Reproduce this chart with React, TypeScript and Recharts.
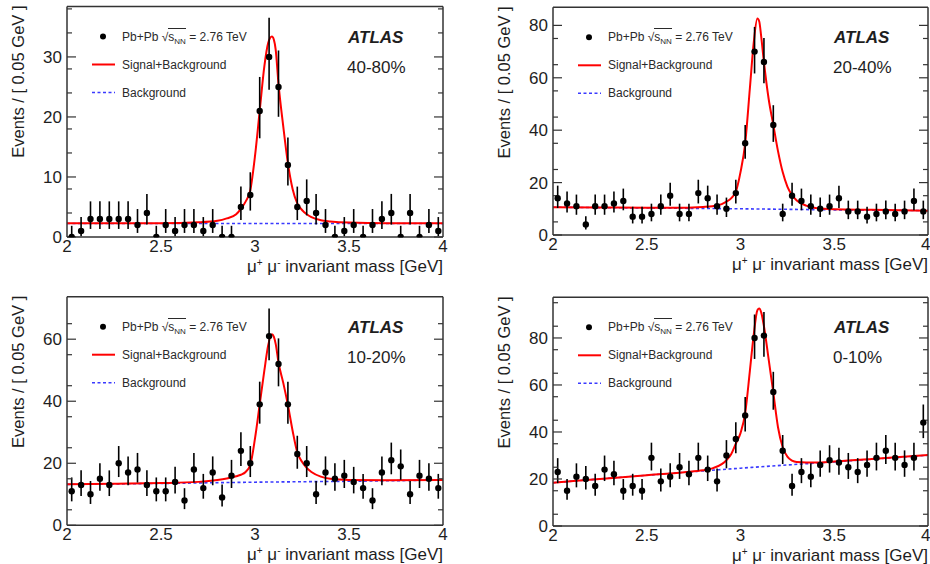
import React from "react";
import { ComposedChart, Line, Scatter, XAxis, YAxis, ErrorBar } from "recharts";

// bin centres, 0.05 GeV wide
const massBins = [
  2.025, 2.075, 2.125, 2.175, 2.225, 2.275, 2.325, 2.375, 2.425, 2.475,
  2.525, 2.575, 2.625, 2.675, 2.725, 2.775, 2.825, 2.875, 2.925, 2.975,
  3.025, 3.075, 3.125, 3.175, 3.225, 3.275, 3.325, 3.375, 3.425, 3.475,
  3.525, 3.575, 3.625, 3.675, 3.725, 3.775, 3.825, 3.875, 3.925, 3.975,
];

const counts4080 = [0, 1, 3, 3, 3, 3, 3, 2, 4, 0, 2, 1, 2, 2, 1, 2, 0, 0, 5, 7, 21, 30, 25, 12, 5, 6, 4, 2, 0, 1, 2, 0, 2, 3, 4, 0, 4, 0, 2, 1];
const counts2040 = [14, 12, 11, 4, 11, 11, 12, 13, 7, 7, 8, 11, 15, 8, 8, 16, 14, 11, 10, 16, 35, 70, 66, 42, 8, 15, 13, 11, 10, 11, 14, 9, 9, 7, 8, 9, 8, 9, 13, 9];
const counts1020 = [11, 13, 10, 15, 13, 20, 17, 18, 13, 11, 11, 14, 8, 18, 12, 17, 9, 16, 24, 20, 39, 61, 52, 39, 23, 20, 10, 17, 15, 16, 14, 12, 8, 17, 21, 19, 10, 16, 15, 12];
const counts010 = [23, 15, 21, 20, 17, 24, 22, 15, 17, 15, 29, 19, 21, 25, 22, 29, 24, 19, 30, 37, 47, 80, 81, 57, 32, 17, 23, 21, 26, 28, 27, 25, 23, 26, 29, 32, 29, 26, 29, 44];

// fit curve
const curveMass = [2.0, 2.25, 2.5, 2.7, 2.8, 2.85, 2.9, 2.925, 2.95, 2.975, 3.0, 3.025, 3.05, 3.07, 3.09, 3.1, 3.11, 3.125, 3.15, 3.175, 3.2, 3.225, 3.25, 3.275, 3.3, 3.35, 3.4, 3.5, 3.7, 4.0];
const fit4080 = [2.3, 2.3, 2.3, 2.45, 2.7, 3.1, 3.8, 4.7, 5.9, 7.8, 13.5, 21, 28.5, 32.3, 33.4, 32.9, 31.2, 25.5, 18.5, 12.3, 8.0, 5.6, 4.5, 3.8, 3.3, 2.8, 2.6, 2.4, 2.3, 2.3];
const fit2040 = [10.6, 10.5, 10.4, 10.4, 10.7, 11.0, 11.8, 12.7, 14.0, 16.5, 24, 35, 56, 73, 82.6, 81.5, 76, 66, 52, 42, 32, 24, 18.5, 15.2, 13.2, 11.2, 10.3, 9.8, 9.6, 9.3];
const fit1020 = [13.2, 13.4, 13.6, 14.0, 14.6, 15.1, 15.8, 16.3, 17.2, 19.5, 28, 39, 50, 58, 61.6, 60.8, 58.5, 52.5, 46, 38.8, 30.5, 23.5, 20.5, 18.5, 17.2, 15.7, 15.0, 14.6, 14.5, 14.6];
const fit010 = [18.4, 20.0, 21.6, 22.9, 23.7, 24.5, 26.3, 28, 30.5, 35, 39.5, 48, 66, 81, 91.8, 92.5, 91, 85, 71, 56.7, 42, 33.5, 29.5, 27.8, 27.2, 27.0, 27.0, 27.4, 28.5, 30.2];

const bkgMass = [2.0, 2.5, 3.0, 3.5, 4.0];
const bkg4080 = [2.25, 2.25, 2.25, 2.25, 2.25];
const bkg2040 = [10.6, 10.3, 10.0, 9.6, 9.3];
const bkg1020 = [13.2, 13.5, 13.9, 14.2, 14.6];
const bkg010 = [18.4, 21.6, 24.6, 27.3, 30.1];

const massMajor = [2, 2.5, 3, 3.5, 4];
const massMinor = [2.1, 2.2, 2.3, 2.4, 2.6, 2.7, 2.8, 2.9, 3.1, 3.2, 3.3, 3.4, 3.6, 3.7, 3.8, 3.9];
const yMajor10 = [0, 10, 20, 30];
const yMinor2 = [2, 4, 6, 8, 12, 14, 16, 18, 22, 24, 26, 28, 32, 34, 36, 38];
const yMajor20 = [0, 20, 40, 60, 80];
const yMinor5 = [5, 10, 15, 25, 30, 35, 45, 50, 55, 65, 70, 75, 85, 90, 95];

const FONT = '"Liberation Sans", Arial, Helvetica, sans-serif';
const INK = "#1e1e1e";
const FRAME = "#333";
const YW = 50;
const XH = 24;
const THIN = 0.01;

type Spec = {
  centrality: string;
  counts: number[];
  fit: number[];
  bkg: number[];
  yMax: number;
  yMajor: number[];
  yMinor: number[];
  chart: { x: number; y: number; w: number; h: number };
  plot: { l: number; t: number; r: number; b: number };
};

const panels: Spec[] = [
  { centrality: "40-80%", counts: counts4080, fit: fit4080, bkg: bkg4080, yMax: 38.4, yMajor: yMajor10, yMinor: yMinor2,
    chart: { x: 0, y: 0, w: 462, h: 288 }, plot: { l: 67, t: 6.5, r: 443, b: 237 } },
  { centrality: "20-40%", counts: counts2040, fit: fit2040, bkg: bkg2040, yMax: 86.9, yMajor: yMajor20, yMinor: yMinor5,
    chart: { x: 480, y: 0, w: 450, h: 288 }, plot: { l: 553, t: 7.3, r: 928, b: 235 } },
  { centrality: "10-20%", counts: counts1020, fit: fit1020, bkg: bkg1020, yMax: 73.7, yMajor: yMajor20.slice(0, 4), yMinor: yMinor5,
    chart: { x: 0, y: 288, w: 462, h: 276 }, plot: { l: 67, t: 296.7, r: 443, b: 525.3 } },
  { centrality: "0-10%", counts: counts010, fit: fit010, bkg: bkg010, yMax: 97.3, yMajor: yMajor20, yMinor: yMinor5,
    chart: { x: 480, y: 288, w: 450, h: 276 }, plot: { l: 553, t: 297.3, r: 928, b: 526 } },
];

const noLabel = () => <g />;
const dot = (props: any) => <circle cx={props.cx} cy={props.cy} r={3.2} fill="#000" />;

function Panel({ p }: { p: Spec }) {
  const { chart, plot } = p;
  const margin = {
    left: plot.l - chart.x - YW,
    top: plot.t - chart.y,
    right: chart.x + chart.w - plot.r,
    bottom: chart.y + chart.h - plot.b - XH,
  };
  const pts = massBins.map((x, i) => {
    const n = p.counts[i];
    return { x, y: n, err: [n > 0 ? Math.sqrt(n - 0.25) : 0, Math.sqrt(n + 0.75) + 1], xerr: 0.012 };
  });
  const fit = curveMass.map((x, i) => ({ x, y: p.fit[i] }));
  const bkg = bkgMass.map((x, i) => ({ x, y: p.bkg[i] }));
  const tl = { stroke: FRAME, strokeWidth: 1.2 };
  const frameLine = { stroke: FRAME, strokeWidth: 1.5 };
  const xs = { type: "number" as const, domain: [2, 4], allowDataOverflow: true, mirror: true, height: THIN, tick: noLabel, tickLine: tl, stroke: FRAME };
  const ys = { type: "number" as const, domain: [0, p.yMax], allowDataOverflow: true, mirror: true, width: THIN, tick: noLabel, tickLine: tl, stroke: FRAME };
  const label = { fontSize: 17, fill: INK, fontFamily: FONT };

  return (
    <div style={{ position: "absolute", left: chart.x, top: chart.y }}>
      <ComposedChart width={chart.w} height={chart.h} margin={margin}>
        <XAxis xAxisId="m" dataKey="x" type="number" domain={[2, 4]} allowDataOverflow ticks={massMajor}
          height={XH} tickSize={0} tickMargin={3} tick={label} tickLine={false} axisLine={frameLine} />
        <YAxis yAxisId="m" type="number" domain={[0, p.yMax]} allowDataOverflow ticks={p.yMajor}
          width={YW} tickSize={0} tickMargin={5} tick={label} tickLine={false} axisLine={frameLine} />

        <XAxis {...xs} xAxisId="bM" orientation="bottom" ticks={massMajor} tickSize={9} axisLine={false} />
        <XAxis {...xs} xAxisId="bm" orientation="bottom" ticks={massMinor} tickSize={5} axisLine={false} />
        <XAxis {...xs} xAxisId="tM" orientation="top" ticks={massMajor} tickSize={9} axisLine={frameLine} />
        <XAxis {...xs} xAxisId="tm" orientation="top" ticks={massMinor} tickSize={5} axisLine={false} />
        <YAxis {...ys} yAxisId="lM" orientation="left" ticks={p.yMajor} tickSize={9} axisLine={false} />
        <YAxis {...ys} yAxisId="lm" orientation="left" ticks={p.yMinor} tickSize={5} axisLine={false} />
        <YAxis {...ys} yAxisId="rM" orientation="right" ticks={p.yMajor} tickSize={9} axisLine={frameLine} />
        <YAxis {...ys} yAxisId="rm" orientation="right" ticks={p.yMinor} tickSize={5} axisLine={false} />

        <Line xAxisId="m" yAxisId="m" data={bkg} dataKey="y" type="monotone" stroke="#3a3aff" strokeWidth={1.6}
          strokeDasharray="3 2.5" dot={false} activeDot={false} isAnimationActive={false} />
        <Line xAxisId="m" yAxisId="m" data={fit} dataKey="y" type="monotone" stroke="#ff0000" strokeWidth={2}
          dot={false} activeDot={false} isAnimationActive={false} />
        <Scatter xAxisId="m" yAxisId="m" data={pts} dataKey="y" shape={dot} isAnimationActive={false}>
          <ErrorBar dataKey="err" direction="y" width={0} stroke="#000" strokeWidth={1.6} />
          <ErrorBar dataKey="xerr" direction="x" width={0} stroke="#000" strokeWidth={1.6} />
        </Scatter>
      </ComposedChart>
    </div>
  );
}

function Annotations({ p }: { p: Spec }) {
  const { l, t, r, b } = p.plot;
  const txt: React.CSSProperties = { position: "absolute", fontFamily: FONT, color: INK, whiteSpace: "nowrap", transform: "translateY(-50%)", lineHeight: 1 };
  const leg: React.CSSProperties = { ...txt, fontSize: 12, color: "#2a2a2a" };
  const sup: React.CSSProperties = { fontSize: 10, position: "relative", top: -6 };
  return (
    <>
      <svg width={930} height={564} style={{ position: "absolute", left: 0, top: 0, pointerEvents: "none" }}>
        <text x={l - 43} y={t - 1} transform={`rotate(-90 ${l - 43} ${t - 1})`} textAnchor="end"
          fontFamily={FONT} fontSize={16.5} fill={INK}>Events / [ 0.05 GeV ]</text>
        <circle cx={l + 36} cy={t + 30} r={3} fill="#000" />
        <line x1={l + 25} x2={l + 48} y1={t + 58} y2={t + 58} stroke="#ff0000" strokeWidth={2} />
        <line x1={l + 25} x2={l + 48} y1={t + 86} y2={t + 86} stroke="#3a3aff" strokeWidth={1.6} strokeDasharray="3 2.5" />
      </svg>
      <div style={{ ...leg, left: l + 55, top: t + 30 }}>
        Pb+Pb √<span style={{ borderTop: "1px solid #2a2a2a", paddingTop: 1 }}>s<span style={{ fontSize: 8, position: "relative", top: 3 }}>NN</span></span> = 2.76 TeV
      </div>
      <div style={{ ...leg, left: l + 55, top: t + 58 }}>Signal+Background</div>
      <div style={{ ...leg, left: l + 55, top: t + 86 }}>Background</div>
      <div style={{ ...txt, left: l + 281, top: t + 30, fontSize: 17, fontWeight: "bold", fontStyle: "italic" }}>ATLAS</div>
      <div style={{ ...txt, left: l + 280, top: t + 60, fontSize: 17 }}>{p.centrality}</div>
      <div style={{ ...txt, right: 930 - r, top: b + 29, fontSize: 17 }}>
        μ<span style={sup}>+</span> μ<span style={sup}>-</span> invariant mass [GeV]
      </div>
    </>
  );
}

export default function App() {
  return (
    <div style={{ position: "absolute", left: 0, top: 0, width: 930, height: 564, background: "#fff", overflow: "hidden" }}>
      {panels.map((p) => (
        <Panel key={p.centrality} p={p} />
      ))}
      {panels.map((p) => (
        <Annotations key={"a" + p.centrality} p={p} />
      ))}
    </div>
  );
}
